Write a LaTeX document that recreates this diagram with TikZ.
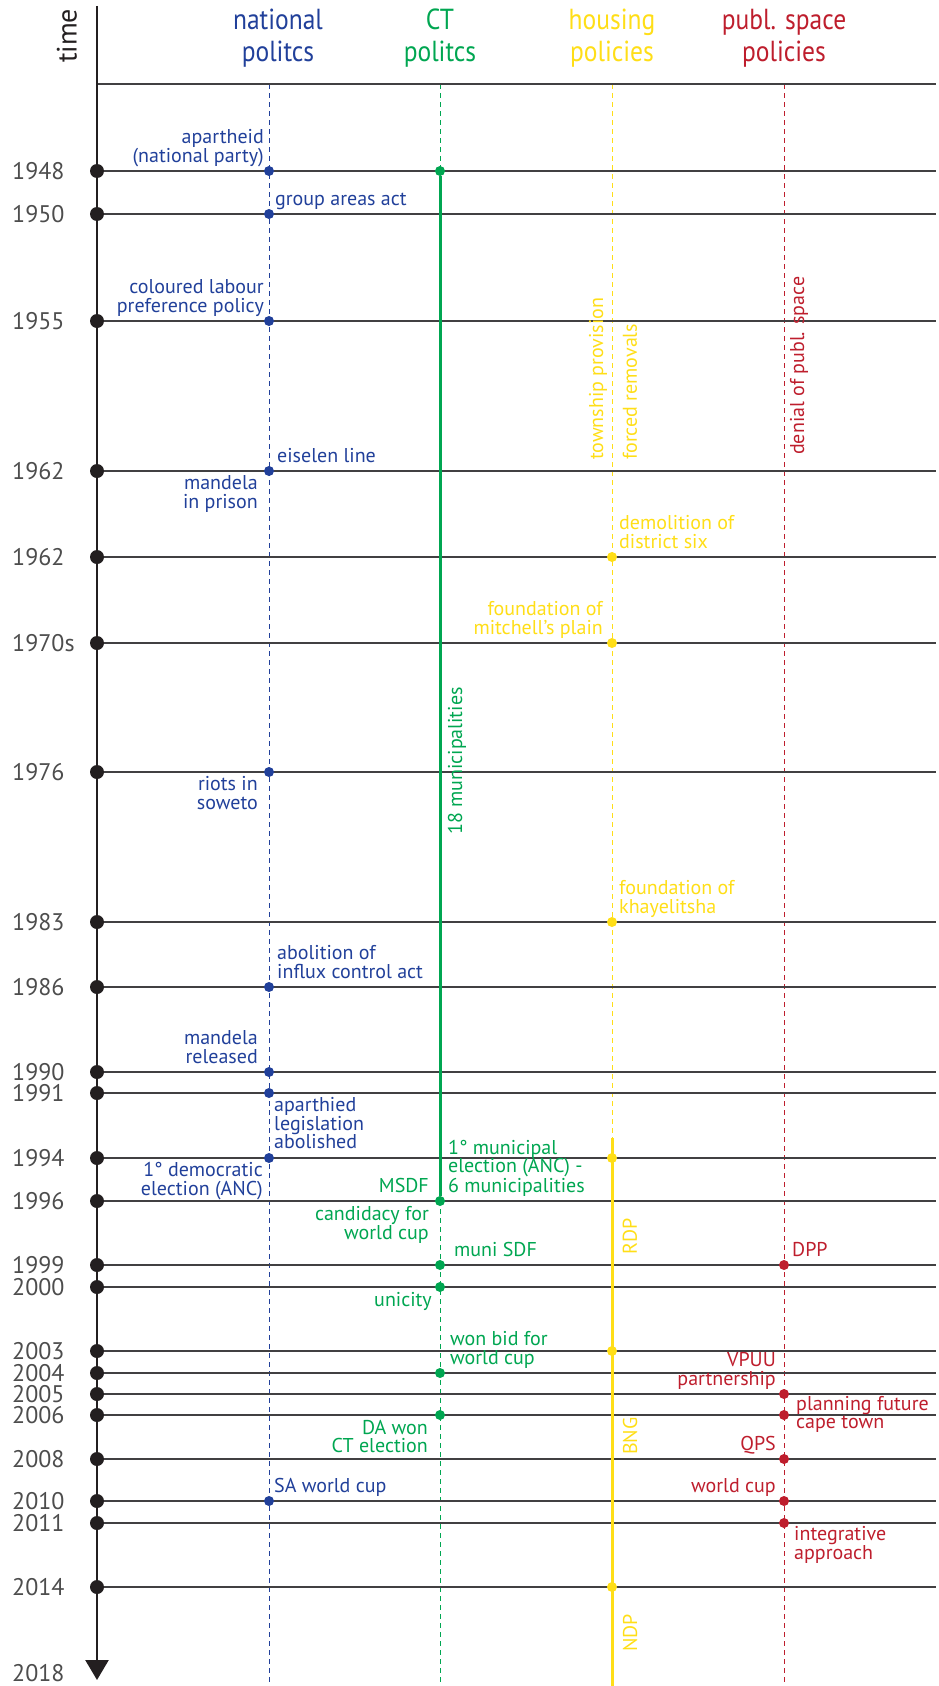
\documentclass[tikz,border=0pt]{standalone}
\usepackage{fontspec}
\setmainfont{PT Sans}
\usetikzlibrary{positioning, arrows.meta, backgrounds}
\definecolor{natblue}{RGB}{33,64,154}
\definecolor{ctgreen}{RGB}{0,166,81}
\definecolor{hsyellow}{RGB}{255,222,23}
\definecolor{psred}{RGB}{190,30,45}
\definecolor{axisblack}{RGB}{35,31,32}
\definecolor{yeargray}{RGB}{77,77,77}
\definecolor{linegray}{RGB}{65,64,66}

\begin{document}
\begin{tikzpicture}[x=1pt, y=-1pt,
  axisdot/.style={circle, fill=axisblack, inner sep=0, minimum size=14pt},
  year/.style={anchor=west, inner sep=0, text=yeargray, font=\fontsize{24}{24}\selectfont},
  head/.style={anchor=north, inner sep=0, align=center, text=#1, font=\fontsize{29}{32}\selectfont\addfontfeature{FakeStretch=0.88}},
  evdot/.style={circle, fill=#1, inner sep=0, minimum size=10pt},
  ev/.style={inner sep=0, text=#1, font=\fontsize{20}{18.5}\selectfont, execute at begin node=\strut, execute at end node=\strut},
  evl/.style={ev=#1, align=right},
  evr/.style={ev=#1, align=left},
  vert/.style={rotate=90, anchor=west, inner sep=0, text=#1, font=\fontsize{20}{20}\selectfont},
  yline/.style={linegray, line width=1.3pt},
  track/.style={#1, line width=1pt, dash pattern=on 5pt off 4pt},
  run/.style={#1, line width=3pt}]
\useasboundingbox (0,0) rectangle (939,1686);

\node[head=natblue] (hnat) at (278,9) {national\\politcs};
\node[head=ctgreen] (hct) at (440,9) {CT\\politcs};
\node[head=hsyellow] (hhs) at (612,9) {housing\\policies};
\node[head=psred] (hps) at (784,9) {publ. space\\policies};
\node[vert=axisblack, font=\fontsize{28}{28}\selectfont] (time) at (67,63) {time};

\coordinate (axT) at (97,6);
\coordinate (axB) at (97,1680);
\coordinate (hl) at (97,84);
\coordinate (hr) at (936,84);
\coordinate (natT) at (269,84);
\coordinate (natB) at (269,1686);
\coordinate (ctT) at (440,84);
\coordinate (ctB) at (440,1686);
\coordinate (hsT) at (612,84);
\coordinate (hsB) at (612,1686);
\coordinate (hsS) at (612,1138);
\coordinate (psT) at (784,84);
\coordinate (psB) at (784,1686);

\node[axisdot] (1948) at (97,171) {};   \node[year] (t1948) at (12,171) {1948};   \coordinate (1948r) at (936,171);
\node[axisdot] (1950) at (97,214) {};   \node[year] (t1950) at (12,214) {1950};   \coordinate (1950r) at (936,214);
\node[axisdot] (1955) at (97,321) {};   \node[year] (t1955) at (12,321) {1955};   \coordinate (1955r) at (936,321);
\node[axisdot] (1962a) at (97,471) {};  \node[year] (t1962a) at (12,471) {1962}; \coordinate (1962ar) at (936,471);
\node[axisdot] (1962b) at (97,557) {};  \node[year] (t1962b) at (12,557) {1962}; \coordinate (1962br) at (936,557);
\node[axisdot] (1970s) at (97,643) {};  \node[year] (t1970s) at (12,643) {1970s}; \coordinate (1970sr) at (936,643);
\node[axisdot] (1976) at (97,772) {};   \node[year] (t1976) at (12,772) {1976};   \coordinate (1976r) at (936,772);
\node[axisdot] (1983) at (97,922) {};   \node[year] (t1983) at (12,922) {1983};   \coordinate (1983r) at (936,922);
\node[axisdot] (1986) at (97,987) {};   \node[year] (t1986) at (12,987) {1986};   \coordinate (1986r) at (936,987);
\node[axisdot] (1990) at (97,1072) {};  \node[year] (t1990) at (12,1072) {1990};  \coordinate (1990r) at (936,1072);
\node[axisdot] (1991) at (97,1093) {};  \node[year] (t1991) at (12,1093) {1991};  \coordinate (1991r) at (936,1093);
\node[axisdot] (1994) at (97,1158) {};  \node[year] (t1994) at (12,1158) {1994};  \coordinate (1994r) at (936,1158);
\node[axisdot] (1996) at (97,1201) {};  \node[year] (t1996) at (12,1201) {1996};  \coordinate (1996r) at (936,1201);
\node[axisdot] (1999) at (97,1265) {};  \node[year] (t1999) at (12,1265) {1999};  \coordinate (1999r) at (936,1265);
\node[axisdot] (2000) at (97,1287) {};  \node[year] (t2000) at (12,1287) {2000};  \coordinate (2000r) at (936,1287);
\node[axisdot] (2003) at (97,1351) {};  \node[year] (t2003) at (12,1351) {2003};  \coordinate (2003r) at (936,1351);
\node[axisdot] (2004) at (97,1373) {};  \node[year] (t2004) at (12,1373) {2004};  \coordinate (2004r) at (936,1373);
\node[axisdot] (2005) at (97,1394) {};  \node[year] (t2005) at (12,1394) {2005};  \coordinate (2005r) at (936,1394);
\node[axisdot] (2006) at (97,1415) {};  \node[year] (t2006) at (12,1415) {2006};  \coordinate (2006r) at (936,1415);
\node[axisdot] (2008) at (97,1459) {};  \node[year] (t2008) at (12,1459) {2008};  \coordinate (2008r) at (936,1459);
\node[axisdot] (2010) at (97,1501) {};  \node[year] (t2010) at (12,1501) {2010};  \coordinate (2010r) at (936,1501);
\node[axisdot] (2011) at (97,1523) {};  \node[year] (t2011) at (12,1523) {2011};  \coordinate (2011r) at (936,1523);
\node[axisdot] (2014) at (97,1587) {};  \node[year] (t2014) at (12,1587) {2014};  \coordinate (2014r) at (936,1587);
\node[year] (t2018) at (12,1673) {2018};

\node[evdot=natblue] (n1948) at (269,171) {};
\node[evdot=natblue] (n1950) at (269,214) {};
\node[evdot=natblue] (n1955) at (269,321) {};
\node[evdot=natblue] (n1962a) at (269,471) {};
\node[evdot=natblue] (n1976) at (269,772) {};
\node[evdot=natblue] (n1986) at (269,987) {};
\node[evdot=natblue] (n1990) at (269,1072) {};
\node[evdot=natblue] (n1991) at (269,1093) {};
\node[evdot=natblue] (n1994) at (269,1158) {};
\node[evdot=natblue] (n2010) at (269,1501) {};
\node[evl=natblue, above left=3pt and 5pt of n1948.center] (apartheid) {apartheid\\(national party)};
\node[evr=natblue, above right=3pt and 6pt of n1950.center] (groupareas) {group areas act};
\node[evl=natblue, above left=3pt and 5pt of n1955.center] (labour) {coloured labour\\preference policy};
\node[evr=natblue, above right=3pt and 8pt of n1962a.center] (eiselen) {eiselen line};
\node[evl=natblue, below left=4.5pt and 11pt of n1962a.center] (prison) {mandela\\in prison};
\node[evl=natblue, below left=4.5pt and 11pt of n1976.center] (soweto) {riots in\\soweto};
\node[evr=natblue, above right=3pt and 8pt of n1986.center] (influx) {abolition of\\influx control act};
\node[evl=natblue, above left=3pt and 11pt of n1990.center] (released) {mandela\\released};
\node[evr=natblue, below right=4.5pt and 5pt of n1991.center] (legislation) {aparthied\\legislation\\abolished};
\node[evl=natblue, below left=4.5pt and 6pt of n1994.center] (democratic) {1° democratic\\election (ANC)};
\node[evr=natblue, above right=3pt and 5pt of n2010.center] (saworldcup) {SA world cup};

\node[evdot=ctgreen] (c1948) at (440,171) {};
\node[evdot=ctgreen] (c1996) at (440,1201) {};
\node[evdot=ctgreen] (c1999) at (440,1265) {};
\node[evdot=ctgreen] (c2000) at (440,1287) {};
\node[evdot=ctgreen] (c2004) at (440,1373) {};
\node[evdot=ctgreen] (c2006) at (440,1415) {};
\node[vert=ctgreen] (eighteen) at (457,835) {18 municipalities};
\node[evl=ctgreen, above left=3pt and 11pt of c1996.center] (msdf) {MSDF};
\node[evr=ctgreen, above right=3pt and 8pt of c1996.center] (municipal) {1° municipal\\election (ANC) -\\6 municipalities};
\node[evl=ctgreen, below left=5.5pt and 11pt of c1996.center] (candidacy) {candidacy for\\world cup};
\node[evr=ctgreen, above right=3pt and 14pt of c1999.center] (munisdf) {muni SDF};
\node[evl=ctgreen, below left=5pt and 8pt of c2000.center] (unicity) {unicity};
\node[evr=ctgreen, above right=3pt and 10pt of c2004.center] (wonbid) {won bid for\\world cup};
\node[evl=ctgreen, below left=5pt and 12pt of c2006.center] (dawon) {DA won\\CT election};

\node[evdot=hsyellow] (h1962b) at (612,557) {};
\node[evdot=hsyellow] (h1970s) at (612,643) {};
\node[evdot=hsyellow] (h1983) at (612,922) {};
\node[evdot=hsyellow] (h1994) at (612,1158) {};
\node[evdot=hsyellow] (h2003) at (612,1351) {};
\node[evdot=hsyellow] (h2014) at (612,1587) {};
\node[vert=hsyellow] (township) at (598,460) {township provision};
\node[vert=hsyellow] (removals) at (630,460) {forced removals};
\node[vert=hsyellow] (rdp) at (630,1255) {RDP};
\node[vert=hsyellow] (bng) at (630,1455) {BNG};
\node[vert=hsyellow] (ndp) at (630,1652) {NDP};
\node[evr=hsyellow, above right=3pt and 7pt of h1962b.center] (districtsix) {demolition of\\district six};
\node[evl=hsyellow, above left=3pt and 9pt of h1970s.center] (mitchells) {foundation of\\mitchell’s plain};
\node[evr=hsyellow, above right=3pt and 7pt of h1983.center] (khayelitsha) {foundation of\\khayelitsha};

\node[evdot=psred] (p1999) at (784,1265) {};
\node[evdot=psred] (p2005) at (784,1394) {};
\node[evdot=psred] (p2006) at (784,1415) {};
\node[evdot=psred] (p2008) at (784,1459) {};
\node[evdot=psred] (p2010) at (784,1501) {};
\node[evdot=psred] (p2011) at (784,1523) {};
\node[vert=psred] (denial) at (799,455) {denial of publ. space};
\node[evr=psred, above right=3pt and 8pt of p1999.center] (dpp) {DPP};
\node[evl=psred, above left=3pt and 8pt of p2005.center] (vpuu) {VPUU\\partnership};
\node[evr=psred, right=12pt of p2006.center] (planning) {planning future\\cape town};
\node[evl=psred, above left=3pt and 8pt of p2008.center] (qps) {QPS};
\node[evl=psred, above left=3pt and 8pt of p2010.center] (worldcup) {world cup};
\node[evr=psred, below right=3.5pt and 10pt of p2011.center] (integrative) {integrative\\approach};

\begin{scope}[on background layer]
\draw[track=natblue] (natT) -- (natB);
\draw[track=ctgreen] (ctT) -- (ctB);
\draw[track=hsyellow] (hsT) -- (hsB);
\draw[track=psred] (psT) -- (psB);
\draw[yline] (hl) -- (hr);
\draw[yline] (1948) -- (1948r);
\draw[yline] (1950) -- (1950r);
\draw[yline] (1955) -- (1955r);
\draw[yline] (1962a) -- (1962ar);
\draw[yline] (1962b) -- (1962br);
\draw[yline] (1970s) -- (1970sr);
\draw[yline] (1976) -- (1976r);
\draw[yline] (1983) -- (1983r);
\draw[yline] (1986) -- (1986r);
\draw[yline] (1990) -- (1990r);
\draw[yline] (1991) -- (1991r);
\draw[yline] (1994) -- (1994r);
\draw[yline] (1996) -- (1996r);
\draw[yline] (1999) -- (1999r);
\draw[yline] (2000) -- (2000r);
\draw[yline] (2003) -- (2003r);
\draw[yline] (2004) -- (2004r);
\draw[yline] (2005) -- (2005r);
\draw[yline] (2006) -- (2006r);
\draw[yline] (2008) -- (2008r);
\draw[yline] (2010) -- (2010r);
\draw[yline] (2011) -- (2011r);
\draw[yline] (2014) -- (2014r);
\draw[run=ctgreen] (c1948) -- (c1996);
\draw[run=hsyellow] (hsS) -- (hsB);
\draw[axisblack, line width=2.5pt, -{Triangle[width=23pt, length=20pt]}] (axT) -- (axB);
\end{scope}
\end{tikzpicture}
\end{document}
